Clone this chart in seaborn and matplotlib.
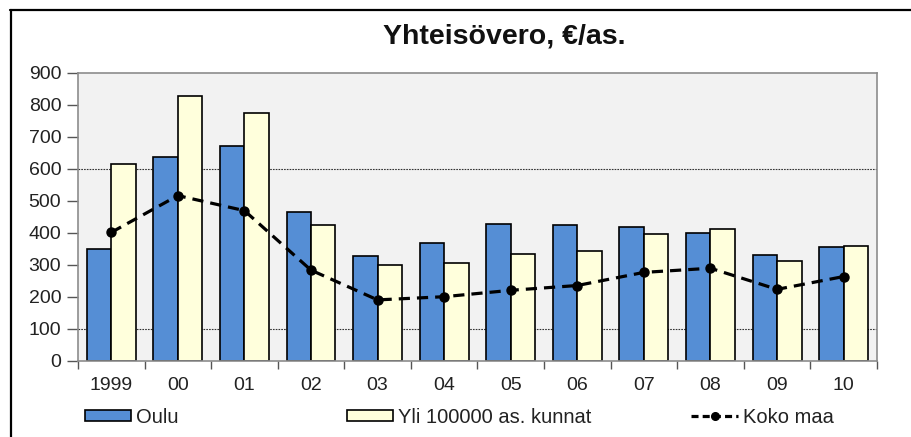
import numpy as np
import pandas as pd
import matplotlib
matplotlib.use("Agg")
import matplotlib.pyplot as plt
import seaborn as sns
from matplotlib.lines import Line2D
from matplotlib.patches import Patch

# Values (euro per inhabitant)
YEARS = ["1999", "00", "01", "02", "03", "04", "05", "06", "07", "08", "09", "10"]
OULU = [348, 637, 671, 466, 327, 367, 427, 423, 419, 399, 330, 354]
YLI_100000 = [616, 826, 774, 423, 299, 306, 333, 344, 395, 412, 311, 358]
KOKO_MAA = [401, 516, 469, 283, 190, 200, 220, 235, 276, 289, 223, 263]
SERIES_NAMES = ["Oulu", "Yli 100000 as. kunnat", "Koko maa"]
GRID_LINES = [100, 600]

BLUE = "#558ED5"
CREAM = "#FFFFDC"


def main():
    sns.set_style("white")
    plt.rcParams["font.family"] = ["Liberation Sans", "DejaVu Sans"]

    df = pd.DataFrame({
        "year": YEARS * 2,
        "value": OULU + YLI_100000,
        "series": [SERIES_NAMES[0]] * len(YEARS) + [SERIES_NAMES[1]] * len(YEARS),
    })

    fig = plt.figure(figsize=(9.11, 4.37), dpi=100)
    ax = fig.add_axes([0.0856, 0.1746, 0.877, 0.659])
    ax.set_facecolor("#F2F2F2")

    for y in GRID_LINES:
        ax.axhline(y, color="#333333", lw=0.8, ls=(0, (1.5, 1)), zorder=0.5)

    sns.barplot(data=df, x="year", y="value", hue="series", order=YEARS,
                palette=[BLUE, CREAM], width=0.735, edgecolor="black",
                linewidth=1.2, saturation=1, legend=False, ax=ax, zorder=2)

    ax.plot(np.arange(len(YEARS)), KOKO_MAA, color="black", lw=2.3,
            dashes=(3.5, 2.2), marker="o", markersize=6.5, zorder=4)

    ax.set_xlim(-0.5, len(YEARS) - 0.5)
    ax.set_ylim(0, 900)
    ax.set_yticks(range(0, 901, 100))
    ax.set_xlabel("")
    ax.set_ylabel("")

    for side in ["left", "right", "top", "bottom"]:
        ax.spines[side].set_color("#8C8C8C")
        ax.spines[side].set_linewidth(1.2)

    ax.tick_params(axis="y", which="major", direction="out", length=8,
                   width=1, color="#555555", labelsize=14,
                   labelcolor="#222222", pad=4, left=True)
    ax.set_xticks(np.arange(len(YEARS)))
    ax.set_xticklabels(YEARS)
    ax.tick_params(axis="x", which="major", length=0, labelsize=14,
                   labelcolor="#222222", pad=12)
    ax.set_xticks(np.arange(-0.5, len(YEARS)), minor=True)
    ax.tick_params(axis="x", which="minor", direction="out", length=6,
                   width=1, color="#555555", bottom=True)

    fig.suptitle("Yhteisövero, €/as.", x=0.553, y=0.947, fontsize=20.5,
                 fontweight="bold", color="#111111")

    # legend entries placed apart like the original
    entries = [
        (Patch(facecolor=BLUE, edgecolor="black", lw=1.2), SERIES_NAMES[0], 0.093),
        (Patch(facecolor=CREAM, edgecolor="black", lw=1.2), SERIES_NAMES[1], 0.381),
        (Line2D([], [], color="black", lw=2.3, dashes=(2.2, 1.3), marker="o",
                markersize=5.5), SERIES_NAMES[2], 0.759),
    ]
    for handle, label, xpos in entries:
        leg = fig.legend([handle], [label], loc="center left",
                         bbox_to_anchor=(xpos, 0.045), frameon=False,
                         fontsize=14.5, handlelength=2.3, handleheight=0.5,
                         handletextpad=0.25, borderpad=0, borderaxespad=0)
        for t in leg.get_texts():
            t.set_color("#222222")

    # outer frame (only the top and left edges fall inside the image)
    fig.add_artist(Line2D([11 / 911, 11 / 911], [0, 1 - 10 / 437],
                          transform=fig.transFigure, color="black", lw=1.6))
    fig.add_artist(Line2D([10 / 911, 1], [1 - 10 / 437, 1 - 10 / 437],
                          transform=fig.transFigure, color="black", lw=1.6))

    fig.savefig("out.png", dpi=100, facecolor="white")


if __name__ == "__main__":
    main()
